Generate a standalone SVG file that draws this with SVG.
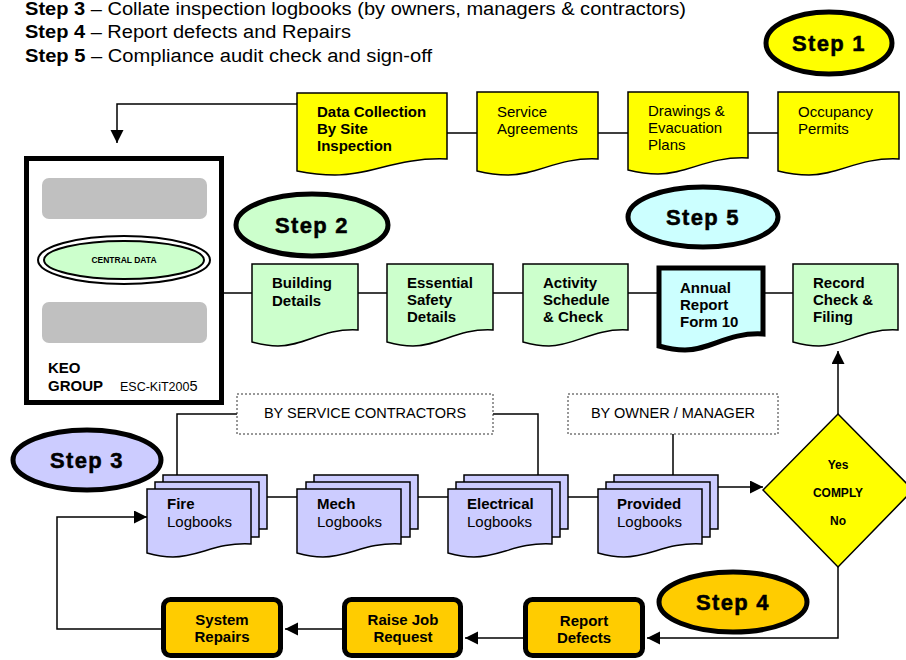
<svg xmlns="http://www.w3.org/2000/svg" width="906" height="660" viewBox="0 0 906 660">
<defs>
<marker id="ah" markerUnits="userSpaceOnUse" markerWidth="14" markerHeight="14" refX="13" refY="6.5" orient="auto"><path d="M0,0 L13,6.5 L0,13 z" fill="#000"/></marker>
<style>
.t{font-family:"Liberation Sans",Arial,sans-serif;fill:#000}
.b{font-weight:bold}
.lbl{font-size:15px}
.step{font-family:"Liberation Sans",Arial,sans-serif;font-weight:bold;font-size:22px;letter-spacing:1.3px;stroke:#000;stroke-width:0.5;text-anchor:middle}
.se{stroke:#000;stroke-width:5}
.doc{stroke:#000;stroke-width:1.5}
.y{fill:#ffff00}.g{fill:#ccffcc}.c{fill:#ccffff}.l{fill:#ccccff}.o{fill:#ffcc00}
.con{fill:none;stroke:#000;stroke-width:1.5}
.dash{fill:#fff;stroke:#333;stroke-width:1;stroke-dasharray:2,2}
.bx{stroke:#000;stroke-width:5;fill:#ffcc00}
</style>
</defs>
<rect width="906" height="660" fill="#fff"/>

<g id="header">
<text class="t" x="25" y="15" font-size="18" textLength="661" lengthAdjust="spacingAndGlyphs"><tspan class="b">Step 3</tspan> – Collate inspection logbooks (by owners, managers &amp; contractors)</text>
<text class="t" x="25" y="38" font-size="18" textLength="326" lengthAdjust="spacingAndGlyphs"><tspan class="b">Step 4</tspan> – Report defects and Repairs</text>
<text class="t" x="25" y="62" font-size="18" textLength="407" lengthAdjust="spacingAndGlyphs"><tspan class="b">Step 5</tspan> – Compliance audit check and sign-off</text>
</g>

<g id="connectors">
<path class="con" d="M297,104 H117 V143" marker-end="url(#ah)"/>
<path class="con" d="M447,133 H477 M598,133 H628 M748,133 H778"/>
<path class="con" d="M224,293 H252 M358,293 H387 M493,293 H523 M628,293 H657 M765,293 H793"/>
<path class="con" d="M838,414 V351" marker-end="url(#ah)"/>
<path class="con" d="M237,414 H177 V475 M493,414 H538 V475 M673,434 V475"/>
<path class="con" d="M267,497 H297 M418,497 H448 M568,497 H598"/>
<path class="con" d="M718,487 H763" marker-end="url(#ah)"/>
<path class="con" d="M838,567 V638 H647" marker-end="url(#ah)"/>
<path class="con" d="M523,638 H465" marker-end="url(#ah)"/>
<path class="con" d="M342,629 H285" marker-end="url(#ah)"/>
<path class="con" d="M161,629 H57 V517 H147" marker-end="url(#ah)"/>
</g>

<g id="step1">
<ellipse class="se y" cx="829" cy="43" rx="63" ry="31"/>
<text class="step" x="829" y="51">Step 1</text>
</g>

<g id="central">
<rect x="26.5" y="158.5" width="195" height="244" fill="#fff" stroke="#000" stroke-width="5"/>
<rect x="42" y="178" width="165" height="41" rx="7" fill="#c0c0c0"/>
<rect x="42" y="302" width="165" height="41" rx="7" fill="#c0c0c0"/>
<ellipse cx="124" cy="260" rx="86" ry="24" fill="#fff" stroke="#000" stroke-width="2"/>
<ellipse cx="124" cy="260" rx="80" ry="19" class="g" stroke="#000" stroke-width="2"/>
<text class="t b" x="124" y="263" font-size="8.5" text-anchor="middle">CENTRAL DATA</text>
<text class="t b" x="48" y="373" font-size="15">KEO</text>
<text class="t b" x="48" y="391" font-size="15">GROUP</text>
<text class="t" x="120" y="391" font-size="12.5">ESC-KiT200<tspan font-size="14.5">5</tspan></text>
</g>

<g id="datacollection">
<path class="doc y" d="M297,93 h150 v66 c-50,-2 -75,16 -112,16 c-15,0 -28,-2 -38,-4 z"/>
<text class="t b lbl" x="317" y="117">Data Collection</text>
<text class="t b lbl" x="317" y="134">By Site</text>
<text class="t b lbl" x="317" y="151">Inspection</text>
</g>
<g id="service">
<path class="doc y" d="M477,92 h121 v67 c-40,-2 -60,16 -90,16 c-12,0 -23,-2 -31,-4 z"/>
<text class="t lbl" x="497" y="117">Service</text>
<text class="t lbl" x="497" y="134">Agreements</text>
</g>
<g id="drawings">
<path class="doc y" d="M628,92 h120 v66 c-40,-2 -60,16 -90,16 c-12,0 -22,-2 -30,-4 z"/>
<text class="t lbl" x="648" y="116">Drawings &amp;</text>
<text class="t lbl" x="648" y="133">Evacuation</text>
<text class="t lbl" x="648" y="150">Plans</text>
</g>
<g id="occupancy">
<path class="doc y" d="M778,92 h121 v67 c-40,-2 -60,16 -90,16 c-12,0 -23,-2 -31,-4 z"/>
<text class="t lbl" x="798" y="117">Occupancy</text>
<text class="t lbl" x="798" y="134">Permits</text>
</g>

<g id="step2">
<ellipse class="se g" cx="312" cy="225" rx="76" ry="31"/>
<text class="step" x="312" y="233">Step 2</text>
</g>
<g id="step5">
<ellipse class="se c" cx="703" cy="217" rx="75" ry="30"/>
<text class="step" x="703" y="225">Step 5</text>
</g>

<g id="building">
<path class="doc g" d="M252,264 h106 v66 c-35,-2 -53,16 -80,16 c-11,0 -19,-2 -26,-4 z"/>
<text class="t b lbl" x="272" y="288">Building</text>
<text class="t b lbl" x="272" y="306">Details</text>
</g>
<g id="essential">
<path class="doc g" d="M387,264 h106 v66 c-35,-2 -53,16 -80,16 c-11,0 -19,-2 -26,-4 z"/>
<text class="t b lbl" x="407" y="288">Essential</text>
<text class="t b lbl" x="407" y="305">Safety</text>
<text class="t b lbl" x="407" y="322">Details</text>
</g>
<g id="activity">
<path class="doc g" d="M523,264 h105 v66 c-35,-2 -53,16 -79,16 c-11,0 -19,-2 -26,-4 z"/>
<text class="t b lbl" x="543" y="288">Activity</text>
<text class="t b lbl" x="543" y="305">Schedule</text>
<text class="t b lbl" x="543" y="322">&amp; Check</text>
</g>
<g id="annual">
<path class="c" stroke="#000" stroke-width="5" d="M659,268 h104 v66 c-35,-2 -52,16 -78,16 c-11,0 -19,-2 -26,-4 z"/>
<text class="t b lbl" x="680" y="293">Annual</text>
<text class="t b lbl" x="680" y="310">Report</text>
<text class="t b lbl" x="680" y="327">Form 10</text>
</g>
<g id="record">
<path class="doc g" d="M793,264 h105 v66 c-35,-2 -53,16 -79,16 c-11,0 -19,-2 -26,-4 z"/>
<text class="t b lbl" x="813" y="288">Record</text>
<text class="t b lbl" x="813" y="305">Check &amp;</text>
<text class="t b lbl" x="813" y="322">Filing</text>
</g>

<g id="bycontractors">
<rect class="dash" x="237" y="394" width="256" height="40"/>
<text class="t" x="365" y="418" font-size="14.5" text-anchor="middle">BY SERVICE CONTRACTORS</text>
</g>
<g id="byowner">
<rect class="dash" x="568" y="394" width="210" height="40"/>
<text class="t" x="673" y="418" font-size="14.5" text-anchor="middle">BY OWNER / MANAGER</text>
</g>

<g id="step3">
<ellipse class="se l" cx="87" cy="460" rx="74" ry="30"/>
<text class="step" x="87" y="468">Step 3</text>
</g>

<g id="fire">
<rect class="doc l" x="163" y="475" width="104" height="54"/>
<rect class="doc l" x="155" y="482" width="104" height="55"/>
<path class="doc l" d="M147,489 h104 v55 c-35,-2 -52,13 -78,13 c-11,0 -19,-2 -26,-4 z"/>
<text class="t b lbl" x="167" y="509">Fire</text>
<text class="t lbl" x="167" y="527">Logbooks</text>
</g>
<g id="mech">
<rect class="doc l" x="314" y="475" width="104" height="54"/>
<rect class="doc l" x="306" y="482" width="104" height="55"/>
<path class="doc l" d="M297,489 h104 v55 c-35,-2 -52,13 -78,13 c-11,0 -19,-2 -26,-4 z"/>
<text class="t b lbl" x="317" y="509">Mech</text>
<text class="t lbl" x="317" y="527">Logbooks</text>
</g>
<g id="electrical">
<rect class="doc l" x="464" y="475" width="104" height="54"/>
<rect class="doc l" x="456" y="482" width="104" height="55"/>
<path class="doc l" d="M448,489 h104 v55 c-35,-2 -52,13 -78,13 c-11,0 -19,-2 -26,-4 z"/>
<text class="t b lbl" x="467" y="509">Electrical</text>
<text class="t lbl" x="467" y="527">Logbooks</text>
</g>
<g id="provided">
<rect class="doc l" x="614" y="475" width="104" height="54"/>
<rect class="doc l" x="606" y="482" width="104" height="55"/>
<path class="doc l" d="M598,489 h104 v55 c-35,-2 -52,13 -78,13 c-11,0 -19,-2 -26,-4 z"/>
<text class="t b lbl" x="617" y="509">Provided</text>
<text class="t lbl" x="617" y="527">Logbooks</text>
</g>

<g id="comply">
<polygon points="838,414 913,490 838,567 763,490" class="y" stroke="#000" stroke-width="1.5"/>
<text class="t b" x="838" y="469" font-size="12" text-anchor="middle">Yes</text>
<text class="t b" x="838" y="497" font-size="12" text-anchor="middle">COMPLY</text>
<text class="t b" x="838" y="525" font-size="12" text-anchor="middle">No</text>
</g>

<g id="step4">
<ellipse class="se o" cx="733" cy="602" rx="74" ry="30"/>
<text class="step" x="733" y="610">Step 4</text>
</g>

<g id="reportdefects">
<rect class="bx" x="525.5" y="599.5" width="117" height="56" rx="7"/>
<text class="t b lbl" x="584" y="626" text-anchor="middle">Report</text>
<text class="t b lbl" x="584" y="643" text-anchor="middle">Defects</text>
</g>
<g id="raisejob">
<rect class="bx" x="344.5" y="599.5" width="116" height="56" rx="7"/>
<text class="t b lbl" x="403" y="625" text-anchor="middle">Raise Job</text>
<text class="t b lbl" x="403" y="642" text-anchor="middle">Request</text>
</g>
<g id="systemrepairs">
<rect class="bx" x="163.5" y="599.5" width="117" height="56" rx="7"/>
<text class="t b lbl" x="222" y="625" text-anchor="middle">System</text>
<text class="t b lbl" x="222" y="642" text-anchor="middle">Repairs</text>
</g>
</svg>
